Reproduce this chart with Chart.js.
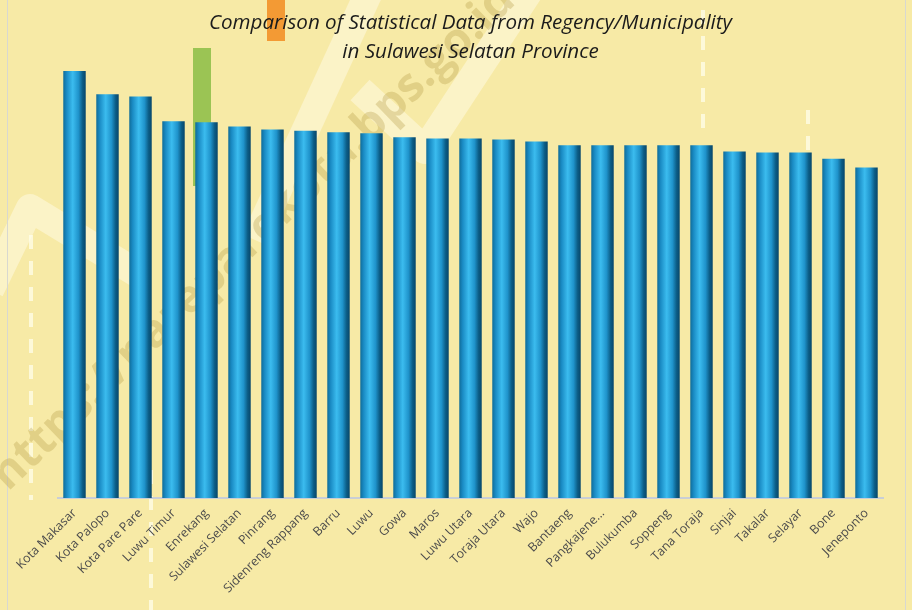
<!DOCTYPE html>
<html>
<head>
<meta charset="utf-8">
<script src="https://cdn.jsdelivr.net/npm/chart.js@4"></script>
<style>
    html, body { margin: 0; padding: 0; background: #f7eaa6; }
    #wrap { width: 912px; height: 610px; position: relative; }
</style>
</head>
<body>
<div id="wrap"><canvas id="chart"></canvas></div>
<script>
// regions, in the order shown on the chart
const regions = [
    "Kota Makasar", "Kota Palopo", "Kota Pare Pare", "Luwu Timur", "Enrekang",
    "Sulawesi Selatan", "Pinrang", "Sidenreng Rappang", "Barru", "Luwu",
    "Gowa", "Maros", "Luwu Utara", "Toraja Utara", "Wajo",
    "Bantaeng", "Pangkajene...", "Bulukumba", "Soppeng", "Tana Toraja",
    "Sinjai", "Takalar", "Selayar", "Bone", "Jeneponto"
];

// values (no axis is shown)
const values = [
    82.3, 77.8, 77.4, 72.6, 72.4,
    71.6, 71.0, 70.8, 70.5, 70.3,
    69.5, 69.3, 69.3, 69.1, 68.7,
    68.0, 68.0, 68.0, 68.0, 68.0,
    66.8, 66.6, 66.6, 65.4, 63.7
];

const titleLines = [
    "Comparison of Statistical Data from Regency/Municipality",
    "in Sulawesi Selatan Province"
];

const BAR_PCT = 0.68;

// cylinder look: dark edges, bright middle
function barGradient(ctx) {
    let chart = ctx.chart;
    let xs = chart.scales.x;
    if (!chart.chartArea || !xs) return "#1f8fc6";
    let w = (xs.width / regions.length) * BAR_PCT;
    let x0 = xs.getPixelForValue(ctx.dataIndex) - w / 2;
    let g = chart.ctx.createLinearGradient(x0, 0, x0 + w, 0);
    g.addColorStop(0, "#0f6c99");
    g.addColorStop(0.15, "#1a8bc4");
    g.addColorStop(0.42, "#3bbcef");
    g.addColorStop(0.68, "#1f93cb");
    g.addColorStop(0.86, "#0c5d86");
    g.addColorStop(1, "#07466a");
    return g;
}

// background decoration of the original image
const backdrop = {
    id: "backdrop",
    beforeDraw(chart) {
        let c = chart.ctx;
        c.save();
        c.fillStyle = "#f7eaa6";
        c.fillRect(0, 0, chart.width, chart.height);

        // pale zigzag bands
        c.strokeStyle = "rgba(255,250,225,0.55)";
        c.lineWidth = 28;
        c.lineJoin = "round";
        c.beginPath();
        c.moveTo(-10, 290);
        c.lineTo(30, 208);
        c.lineTo(140, 275);
        c.stroke();
        c.beginPath();
        c.moveTo(255, 240);
        c.lineTo(370, -10);
        c.stroke();
        c.beginPath();
        c.moveTo(360, 90);
        c.lineTo(425, 150);
        c.lineTo(530, -10);
        c.stroke();

        // dashed white lines
        c.strokeStyle = "rgba(255,255,240,0.7)";
        c.lineWidth = 4;
        c.setLineDash([14, 12]);
        [[31, 235, 500], [151, 470, 612], [703, 10, 140], [808, 110, 160]].forEach(([x, y0, y1]) => {
            c.beginPath();
            c.moveTo(x, y0);
            c.lineTo(x, y1);
            c.stroke();
        });
        c.setLineDash([]);

        // thin frame
        c.strokeStyle = "#d8d8d0";
        c.lineWidth = 1;
        c.beginPath();
        c.moveTo(7.5, 0);
        c.lineTo(7.5, 610);
        c.moveTo(905.5, 0);
        c.lineTo(905.5, 610);
        c.stroke();

        // watermark
        c.translate(8, 492);
        c.rotate(-Math.PI / 4 + 0.02);
        c.font = "bold 46px 'Open Sans'";
        c.fillStyle = "rgba(175,150,60,0.3)";
        c.fillText("https://pareparekota.bps.go.id", 0, 0);
        c.restore();

        c.save();
        c.fillStyle = "#9bc454";
        c.fillRect(193, 48, 18, 138);
        c.fillStyle = "#f39a34";
        c.fillRect(267, 0, 18, 41);
        c.restore();
    }
};

chart = new Chart(document.getElementById("chart"), {
    type: "bar",
    data: {
        labels: regions,
        datasets: [
            {
                label: "Value",
                data: values,
                backgroundColor: barGradient,
                borderWidth: 0,
                barPercentage: BAR_PCT,
                categoryPercentage: 1,
            },
        ],
    },
    options: {
        responsive: true,
        maintainAspectRatio: false,
        animation: false,
        layout: {
            padding: { left: 58, right: 29, top: 0, bottom: 14 },
        },
        plugins: {
            legend: { display: false },
            tooltip: { enabled: false },
            title: {
                display: true,
                text: titleLines,
                color: "#1b1b1b",
                font: { family: "'Open Sans'", size: 20.6, style: "italic", weight: "normal", lineHeight: 1.38 },
                padding: { top: 9, bottom: 2 },
            },
        },
        scales: {
            x: {
                grid: { display: false },
                border: { display: true, color: "#c9ced6", width: 2 },
                ticks: {
                    color: "#4d4d4d",
                    font: { family: "'Open Sans'", size: 12.4 },
                    minRotation: 45,
                    maxRotation: 45,
                    autoSkip: false,
                    padding: 0,
                },
            },
            y: {
                display: false,
                min: 0,
                max: 82.9,
            },
        },
    },
    plugins: [backdrop],
});
</script>
</body>
</html>
